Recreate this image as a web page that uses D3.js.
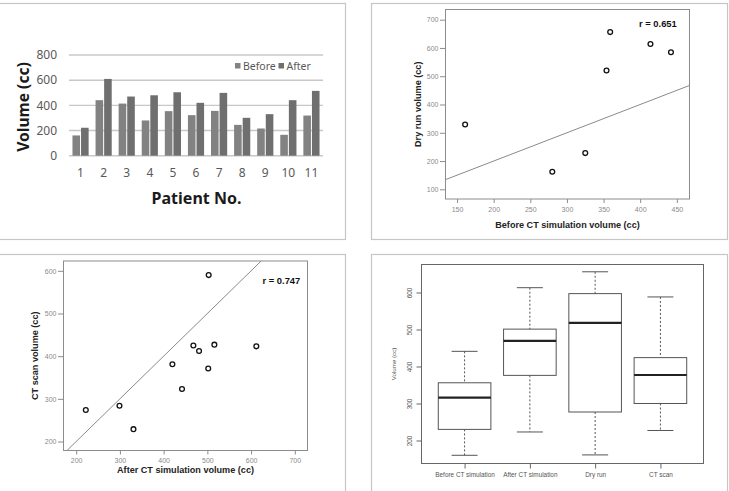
<!DOCTYPE html>
<html>
<head>
<meta charset="utf-8">
<script src="https://cdn.jsdelivr.net/npm/d3@7/dist/d3.min.js"></script>
<style>
  body { margin: 0; background: #fff; }
  svg { display: block; }
</style>
</head>
<body>
<svg id="chart" width="729" height="491"></svg>
<script>
// panel A: bar chart per patient
const patients = ['1', '2', '3', '4', '5', '6', '7', '8', '9', '10', '11'];
const beforeVol = [161, 441, 414, 280, 354, 322, 356, 245, 216, 166, 319];
const afterVol = [222, 610, 470, 480, 504, 420, 499, 301, 330, 441, 515];
const barTicks = [0, 200, 400, 600, 800];

// panel B: before CT simulation vs dry run
const dryBefore = [161, 280, 325, 354, 359, 414, 442];
const dryRun = [329, 162, 228, 520, 656, 614, 585];
const dryXTicks = [150, 200, 250, 300, 350, 400, 450];
const dryYTicks = [100, 200, 300, 400, 500, 600, 700];

// panel C: after CT simulation vs CT scan
const ctAfter = [222, 299, 331, 420, 442, 468, 481, 502, 503, 516, 612];
const ctScan = [274, 284, 229, 381, 323, 425, 412, 371, 590, 427, 423];
const ctXTicks = [200, 300, 400, 500, 600, 700];
const ctYTicks = [200, 300, 400, 500, 600];

// panel D: box plots
const boxLabels = ['Before CT simulation', 'After CT simulation', 'Dry run', 'CT scan'];
const boxMin = [160, 223, 161, 227];
const boxQ1 = [230, 376, 277, 300];
const boxMed = [316, 469, 518, 377];
const boxQ3 = [356, 501, 597, 424];
const boxMax = [441, 613, 656, 588];
const boxTicks = [200, 300, 400, 500, 600];

const svg = d3.select('#chart');
const arial = '"Liberation Sans", Arial, sans-serif';
const sans = '"Noto Sans", "Open Sans", sans-serif';

// panel frames
[[-2, 3.5, 347.5, 236], [371.5, 3.5, 356, 236], [-2, 254.5, 347.5, 250], [371.5, 254.5, 356, 250]]
    .forEach(f => {
        svg.append('rect').attr('x', f[0]).attr('y', f[1]).attr('width', f[2]).attr('height', f[3])
            .attr('fill', 'none').attr('stroke', '#c6c6c6').attr('stroke-width', 1.2);
    });

function drawBars() {
    const g = svg.append('g');
    const x = d3.scaleBand().domain(patients).range([69, 323])
        .paddingInner(0.3).paddingOuter(0.15);
    const y = d3.scaleLinear().domain([0, 800]).range([155.7, 55]);
    const bw = (x.bandwidth() - 1) / 2;

    g.selectAll('.grid').data(barTicks).enter().append('line')
        .attr('x1', 69).attr('x2', 323)
        .attr('y1', d => y(d)).attr('y2', d => y(d))
        .attr('stroke', '#c8c8c8').attr('stroke-width', 1.4);

    g.selectAll('.ylab').data(barTicks).enter().append('text')
        .attr('x', 57).attr('y', d => y(d)).attr('dy', '0.35em')
        .attr('text-anchor', 'end').attr('font-family', sans).attr('font-size', 12)
        .attr('fill', '#595959').text(d => d);

    g.selectAll('.before').data(beforeVol).enter().append('rect')
        .attr('x', (d, i) => x(patients[i])).attr('width', bw)
        .attr('y', d => y(d)).attr('height', d => y(0) - y(d))
        .attr('fill', '#828282');
    g.selectAll('.after').data(afterVol).enter().append('rect')
        .attr('x', (d, i) => x(patients[i]) + bw + 1).attr('width', bw)
        .attr('y', d => y(d)).attr('height', d => y(0) - y(d))
        .attr('fill', '#6f6f6f');

    g.selectAll('.xlab').data(patients).enter().append('text')
        .attr('x', d => x(d) + x.bandwidth() / 2).attr('y', 173).attr('dy', '0.35em')
        .attr('text-anchor', 'middle').attr('font-family', sans).attr('font-size', 12)
        .attr('fill', '#595959').text(d => d);

    g.append('text').attr('x', 196.5).attr('y', 198.5).attr('dy', '0.35em')
        .attr('text-anchor', 'middle').attr('font-family', sans).attr('font-weight', 'bold')
        .attr('font-size', 16).attr('fill', '#1a1a1a').text('Patient No.');
    g.append('text').attr('transform', 'translate(24,107) rotate(-90)').attr('dy', '0.35em')
        .attr('text-anchor', 'middle').attr('font-family', sans).attr('font-weight', 'bold')
        .attr('font-size', 15.6).attr('fill', '#1a1a1a').text('Volume (cc)');

    // legend
    const legend = [['Before', '#828282', 235], ['After', '#6f6f6f', 278.5]];
    legend.forEach(l => {
        g.append('rect').attr('x', l[2]).attr('y', 63).attr('width', 5.5).attr('height', 5.5).attr('fill', l[1]);
        g.append('text').attr('x', l[2] + 8).attr('y', 66).attr('dy', '0.35em')
            .attr('font-family', sans).attr('font-size', 10.5).attr('fill', '#595959').text(l[0]);
    });
}

function drawScatter(opt) {
    const g = svg.append('g');
    const x = d3.scaleLinear().domain(opt.xDom).range([opt.left, opt.right]);
    const y = d3.scaleLinear().domain(opt.yDom).range([opt.bottom, opt.top]);

    g.append('rect').attr('x', opt.left).attr('y', opt.top)
        .attr('width', opt.right - opt.left).attr('height', opt.bottom - opt.top)
        .attr('fill', 'none').attr('stroke', '#8c8c8c').attr('stroke-width', 1);

    const xAxis = g.append('g').attr('transform', 'translate(0,' + opt.bottom + ')')
        .call(d3.axisBottom(x).tickValues(opt.xTicks).tickSize(4).tickSizeOuter(0));
    const yAxis = g.append('g').attr('transform', 'translate(' + opt.left + ',0)')
        .call(d3.axisLeft(y).tickValues(opt.yTicks).tickSize(5.5).tickPadding(1.5).tickSizeOuter(0));
    [xAxis, yAxis].forEach(a => {
        a.select('.domain').remove();
        a.selectAll('line').attr('stroke', '#8c8c8c');
        a.selectAll('text').attr('font-family', arial).attr('font-size', 7).attr('fill', '#8a8a8a');
    });
    xAxis.selectAll('text').attr('y', opt.tickPad).attr('dy', '0.35em');

    // y = x reference line
    const lo = Math.max(opt.xDom[0], opt.yDom[0]);
    const hi = Math.min(opt.xDom[1], opt.yDom[1]);
    g.append('line').attr('x1', x(lo)).attr('y1', y(lo)).attr('x2', x(hi)).attr('y2', y(hi))
        .attr('stroke', '#8a8a8a').attr('stroke-width', 1);

    g.selectAll('circle').data(opt.xs).enter().append('circle')
        .attr('cx', d => x(d)).attr('cy', (d, i) => y(opt.ys[i])).attr('r', 2.4)
        .attr('fill', '#fff').attr('stroke', '#111').attr('stroke-width', 1.3);

    g.append('text').attr('x', opt.rx).attr('y', opt.ry).attr('dy', '0.35em')
        .attr('font-family', arial).attr('font-weight', 'bold').attr('font-size', 9.4)
        .attr('fill', '#111').text(opt.r);
    g.append('text').attr('x', (opt.left + opt.right) / 2).attr('y', opt.xTitleY).attr('dy', '0.35em')
        .attr('text-anchor', 'middle').attr('font-family', arial).attr('font-weight', 'bold')
        .attr('font-size', 9.1).attr('fill', '#222').text(opt.xTitle);
    g.append('text')
        .attr('transform', 'translate(' + opt.yTitleX + ',' + (opt.top + opt.bottom) / 2 + ') rotate(-90)')
        .attr('dy', '0.35em').attr('text-anchor', 'middle').attr('font-family', arial)
        .attr('font-weight', 'bold').attr('font-size', 9.1).attr('fill', '#222').text(opt.yTitle);
}

function drawBoxes() {
    const g = svg.append('g');
    const left = 421.5, right = 703.5, top = 264.5, bottom = 463.5;
    const x = d3.scaleLinear().domain([0.34, 4.66]).range([left, right]);
    const y = d3.scaleLinear().domain([137.8, 675.7]).range([bottom, top]);
    const half = 26.3, cap = 13;
    const idx = boxLabels.map((d, i) => i);

    g.append('rect').attr('x', left).attr('y', top).attr('width', right - left).attr('height', bottom - top)
        .attr('fill', 'none').attr('stroke', '#666').attr('stroke-width', 1);

    const ya = g.append('g').attr('transform', 'translate(' + left + ',0)')
        .call(d3.axisLeft(y).tickValues(boxTicks).tickSize(5).tickSizeOuter(0));
    ya.select('.domain').remove();
    ya.selectAll('line').attr('stroke', '#666');
    ya.selectAll('text').attr('font-family', arial).attr('font-size', 6.4).attr('fill', '#555')
        .attr('text-anchor', 'middle').attr('dy', null)
        .attr('transform', 'translate(-9.5,0) rotate(-90)').attr('x', 0).attr('y', 0);

    const xa = g.append('g').attr('transform', 'translate(0,' + bottom + ')')
        .call(d3.axisBottom(x).tickValues([1, 2, 3, 4]).tickSize(5).tickSizeOuter(0)
            .tickFormat(d => boxLabels[d - 1]));
    xa.select('.domain').remove();
    xa.selectAll('line').attr('stroke', '#666');
    xa.selectAll('text').attr('font-family', arial).attr('font-size', 6.4).attr('fill', '#555')
        .attr('y', 11.5).attr('dy', '0.35em');

    const b = g.selectAll('.box').data(idx).enter().append('g');
    // dashed whiskers
    b.append('line').attr('x1', i => x(i + 1)).attr('x2', i => x(i + 1))
        .attr('y1', i => y(boxMax[i])).attr('y2', i => y(boxQ3[i]))
        .attr('stroke', '#555').attr('stroke-dasharray', '2,2');
    b.append('line').attr('x1', i => x(i + 1)).attr('x2', i => x(i + 1))
        .attr('y1', i => y(boxQ1[i])).attr('y2', i => y(boxMin[i]))
        .attr('stroke', '#555').attr('stroke-dasharray', '2,2');
    // caps
    b.append('line').attr('x1', i => x(i + 1) - cap).attr('x2', i => x(i + 1) + cap)
        .attr('y1', i => y(boxMax[i])).attr('y2', i => y(boxMax[i])).attr('stroke', '#555');
    b.append('line').attr('x1', i => x(i + 1) - cap).attr('x2', i => x(i + 1) + cap)
        .attr('y1', i => y(boxMin[i])).attr('y2', i => y(boxMin[i])).attr('stroke', '#555');
    // box and median
    b.append('rect').attr('x', i => x(i + 1) - half).attr('width', half * 2)
        .attr('y', i => y(boxQ3[i])).attr('height', i => y(boxQ1[i]) - y(boxQ3[i]))
        .attr('fill', '#fff').attr('stroke', '#555').attr('stroke-width', 1);
    b.append('line').attr('x1', i => x(i + 1) - half).attr('x2', i => x(i + 1) + half)
        .attr('y1', i => y(boxMed[i])).attr('y2', i => y(boxMed[i]))
        .attr('stroke', '#222').attr('stroke-width', 2.2);

    g.append('text').attr('transform', 'translate(394,' + (top + bottom) / 2 + ') rotate(-90)')
        .attr('dy', '0.35em').attr('text-anchor', 'middle').attr('font-family', arial)
        .attr('font-size', 6.2).attr('fill', '#555').text('Volume (cc)');
}

drawBars();
drawScatter({
    xDom: [134.2, 467.3], yDom: [65.7, 736],
    left: 445.5, right: 689.5, top: 9.5, bottom: 199,
    xTicks: dryXTicks, yTicks: dryYTicks, xs: dryBefore, ys: dryRun,
    r: 'r = 0.651', rx: 639, ry: 23.5,
    xTitle: 'Before CT simulation volume (cc)', xTitleY: 224.5, tickPad: 11,
    yTitle: 'Dry run volume (cc)', yTitleX: 417.5
});
drawScatter({
    xDom: [171, 729], yDom: [179, 623],
    left: 63.5, right: 307.5, top: 261, bottom: 450.5,
    xTicks: ctXTicks, yTicks: ctYTicks, xs: ctAfter, ys: ctScan,
    r: 'r = 0.747', rx: 262.5, ry: 280.5,
    xTitle: 'After CT simulation volume (cc)', xTitleY: 469.5, tickPad: 9.8,
    yTitle: 'CT scan volume (cc)', yTitleX: 34.5
});
drawBoxes();
</script>
</body>
</html>
